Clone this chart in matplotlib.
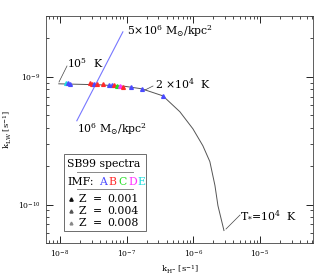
import numpy as np
import matplotlib
matplotlib.use("Agg")
import matplotlib.pyplot as plt
from matplotlib.patches import Rectangle

plt.rcParams['font.family'] = ['DejaVu Serif']
plt.rcParams['mathtext.fontset'] = 'dejavuserif'

# Track curve (k_H-, k_LW)
curve_kh = [9.66e-9, 3.98e-8, 9.44e-8, 1.69e-7, 3.50e-7, 6.29e-7, 9.86e-7,
            1.39e-6, 1.77e-6, 2.11e-6, 2.34e-6, 2.88e-6]
curve_klw = [8.82e-10, 8.66e-10, 8.43e-10, 8.06e-10, 7.10e-10, 5.33e-10, 3.92e-10,
             2.89e-10, 2.17e-10, 1.41e-10, 9.8e-11, 6.26e-11]

# SB99 points
pts_kh = [1.23e-8, 1.32e-8, 1.41e-8, 2.82e-8, 3.02e-8, 3.24e-8, 3.59e-8, 4.41e-8,
          5.43e-8, 6.03e-8, 6.46e-8, 7.16e-8, 7.94e-8, 8.81e-8, 1.16e-7, 1.72e-7, 3.50e-7]
pts_klw = [8.98e-10, 8.9e-10, 8.81e-10, 8.9e-10, 8.81e-10, 8.81e-10, 8.81e-10, 8.74e-10,
           8.66e-10, 8.66e-10, 8.58e-10, 8.50e-10, 8.43e-10, 8.35e-10, 8.28e-10, 8.06e-10, 7.10e-10]
pts_imf = ['E', 'A', 'A', 'B', 'B', 'A', 'B', 'B', 'A', 'A', 'B', 'C', 'D', 'B', 'A', 'A', 'A']

imf_colors = {'A': '#4a4aff', 'B': '#ff2a2a', 'C': '#22dd22', 'D': '#ff33ff', 'E': '#22dddd'}

# Surface density line
sd_kh = [1.80e-8, 8.81e-8]
sd_klw = [4.53e-10, 2.25e-9]

fig = plt.figure(figsize=(3.19, 2.79), dpi=100)
ax = fig.add_axes([0.144, 0.129, 0.837, 0.814])
ax.set_xscale('log')
ax.set_yscale('log')
ax.set_xlim(6.2e-9, 6.2e-5)
ax.set_ylim(5e-11, 3e-9)

ax.plot(curve_kh, curve_klw, color='#555555', lw=0.7)
ax.plot(sd_kh, sd_klw, color='#7777ff', lw=0.8)
for x, y, c in zip(pts_kh, pts_klw, pts_imf):
    ax.plot(x, y, marker='^', ms=2.7, color=imf_colors[c], mec=imf_colors[c], ls='none')

ax.tick_params(which='both', direction='in', top=True, right=True, labelsize=5.5, pad=4)
ax.tick_params(which='major', length=5, width=0.6)
ax.tick_params(which='minor', length=2.5, width=0.5)
for s in ax.spines.values():
    s.set_linewidth(0.6)
    s.set_color('#444444')

ax.set_xlabel(r'k$_{\rm H^{-}}$ [s$^{-1}$]', fontsize=6, labelpad=3)
ax.set_ylabel(r'k$_{\rm LW}$ [s$^{-1}$]', fontsize=6, labelpad=3)

fs = 7.8
T = fig.transFigure
def fx(px): return px / 319.0
def fy(py): return 1 - py / 279.0

fig.text(fx(67), fy(63), r'10$^5$  K', fontsize=fs, va='center', ha='left')
fig.lines.append(plt.Line2D([fx(59), fx(67)], [fy(82), fy(66)], transform=T, color='#444444', lw=0.5))
fig.text(fx(127), fy(31), r'5$\times$10$^6$ M$_{\odot}$/kpc$^2$', fontsize=fs, va='center', ha='left')
fig.text(fx(77), fy(129), r'10$^6$ M$_{\odot}$/kpc$^2$', fontsize=fs, va='center', ha='left')
fig.text(fx(155), fy(84), r'2 $\times$10$^4$  K', fontsize=fs, va='center', ha='left')
fig.lines.append(plt.Line2D([fx(145), fx(153)], [fy(90), fy(86)], transform=T, color='#444444', lw=0.5))
fig.text(fx(240), fy(215), r'T$_{*}$=10$^4$  K', fontsize=fs, va='center', ha='left')
fig.lines.append(plt.Line2D([fx(226), fx(240)], [fy(229), fy(215)], transform=T, color='#444444', lw=0.5))

# legend box
fig.patches.append(Rectangle((fx(64), fy(231)), fx(146) - fx(64), fy(154) - fy(231),
                             transform=T, fill=True, facecolor='white', edgecolor='#555555', lw=0.6))
fig.text(fx(67), fy(164), 'SB99 spectra', fontsize=fs, va='center', ha='left')
fig.lines.append(plt.Line2D([fx(77), fx(133)], [fy(172), fy(172)], transform=T, color='#888888', lw=0.7))
fig.text(fx(67), fy(182), 'IMF:', fontsize=fs, va='center', ha='left')
imf_letters = ['A', 'B', 'C', 'D', 'E']
imf_x = [99, 108, 118, 128, 137]
for l, xx in zip(imf_letters, imf_x):
    fig.text(fx(xx), fy(182), l, fontsize=fs, va='center', ha='left', color=imf_colors[l])
fig.lines.append(plt.Line2D([fx(77), fx(133)], [fy(189), fy(189)], transform=T, color='#888888', lw=0.7))
z_vals = ['0.001', '0.004', '0.008']
z_y = [199, 211, 223]
z_ms = [2.4, 2.2, 2.0]
z_col = ['#111111', '#555555', '#888888']
for zv, yy, ms, zc in zip(z_vals, z_y, z_ms, z_col):
    fig.lines.append(plt.Line2D([fx(71)], [fy(yy)], transform=T, marker='^', ms=ms, color=zc, ls='none'))
    fig.text(fx(79), fy(yy), 'Z', fontsize=fs, va='center', ha='left')
    fig.text(fx(93), fy(yy), '=', fontsize=fs, va='center', ha='left')
    fig.text(fx(107), fy(yy), zv, fontsize=fs, va='center', ha='left')

fig.savefig('out.png', dpi=100)
